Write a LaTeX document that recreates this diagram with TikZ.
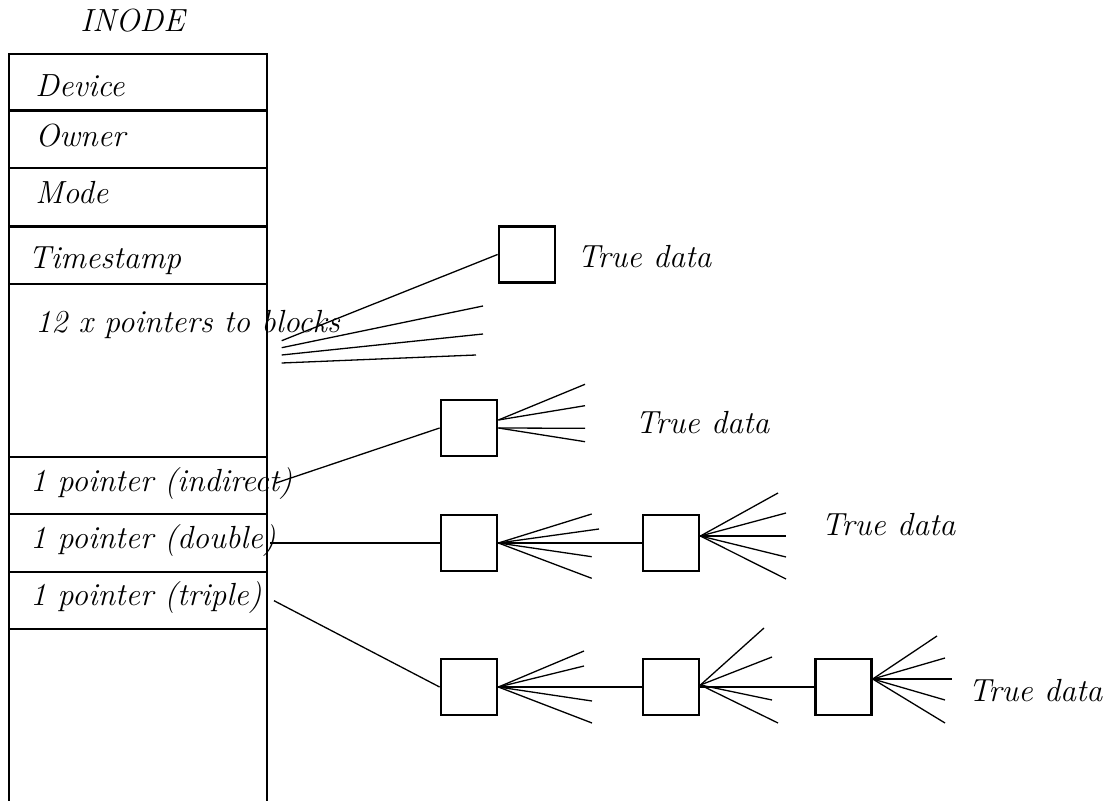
\documentclass[tikz,border=0pt]{standalone}
\usetikzlibrary{calc}
\begin{document}
\begin{tikzpicture}[x=0.5pt,y=-0.5pt,
  txt/.style={inner sep=0pt,anchor=base west,font=\fontsize{16}{19}\selectfont\itshape},
  frame/.style={line width=1.4pt},
  blk/.style={draw,line width=1.4pt,rectangle,minimum size=28pt,inner sep=0pt},
  thin/.style={line width=0.65pt},
  thick/.style={line width=1.4pt}]
\useasboundingbox (0,0) rectangle (1112,801);

% inode table: outer frame (open at the bottom) and field separators
\draw[frame] (9,801) -- (9,54) -- (267,54) -- (267,801);
\foreach \yy in {110.7,168,226.7,284,457,514,572,629}
  \draw[frame] (9,\yy) -- (267,\yy);

\node[txt,anchor=base] (title) at (132.5,32) {INODE};
\node[txt] (dev) at (35,96.7) {Device};
\node[txt] (own) at (35,147) {Owner};
\node[txt] (mode) at (35,204) {Mode};
\node[txt] (ts) at (28,268.3) {Timestamp};
\node[txt] (direct) at (35,333) {12 x pointers to blocks};
\node[txt] (ind) at (30,491.7) {1 pointer (indirect)};
\node[txt] (dbl) at (30,548) {1 pointer (double)};
\node[txt] (tpl) at (30,605.7) {1 pointer (triple)};

% disk blocks
\node[blk] (b1) at (527,254.5) {};
\node[blk] (b2) at (469,428) {};
\node[blk] (b3) at (469,543) {};
\node[blk] (b4) at (671,543) {};
\node[blk] (b5) at (469,687) {};
\node[blk] (b6) at (671,687) {};
\node[blk] (b7) at (843.3,687) {};

\node[txt] (t1) at (577,268) {True data};
\node[txt] (t2) at (635,434) {True data};
\node[txt] (t3) at (821,535) {True data};
\node[txt] (t4) at (968,701) {True data};

% direct pointers
\coordinate (d1) at (281.7,340.7);
\coordinate (d2) at (281.7,347.7);
\coordinate (d3) at (281.7,355);
\coordinate (d4) at (281.7,363);
\coordinate (e2) at (483,306);
\coordinate (e3) at (483,334);
\coordinate (e4) at (476,355);
\draw[thin] (d1) -- (b1.west);
\draw[thin] (d2) -- (e2);
\draw[thin] (d3) -- (e3);
\draw[thin] (d4) -- (e4);

% single indirect
\coordinate (si) at (276,483);
\draw[thin] (si) -- (b2.west);
\coordinate (o2) at ($(b2.east)+(0,-8)$);
\draw[thin] (o2) -- (585,384.3);
\draw[thin] (o2) -- (585,405.7);
\draw[thin] (b2.east) -- (585,428.3);
\draw[thin] (b2.east) -- (585,441.7);

% double indirect
\coordinate (di) at (270,543);
\draw[thick] (di) -- (b3.west);
\draw[thick] (b3.east) -- (b4.west);
\draw[thin] (b3.east) -- (591.7,514);
\draw[thin] (b3.east) -- (599,529);
\draw[thin] (b3.east) -- (591.7,556.7);
\draw[thin] (b3.east) -- (591.7,578.3);
\coordinate (o4) at ($(b4.east)+(0,-7)$);
\draw[thin] (o4) -- (778,493);
\draw[thin] (o4) -- (786,513);
\draw[thin] (o4) -- (786,536);
\draw[thin] (o4) -- (786,557);
\draw[thin] (o4) -- (786,579);

% triple indirect
\coordinate (ti) at (274,600.7);
\draw[thin] (ti) -- (b5.west);
\draw[thick] (b5.east) -- (b6.west);
\draw[thick] (b6.east) -- (b7.west);
\draw[thin] (b5.east) -- (584,651);
\draw[thin] (b5.east) -- (584,666);
\draw[thin] (b5.east) -- (592,701);
\draw[thin] (b5.east) -- (592,723);
\coordinate (o6) at ($(b6.east)+(0,-2)$);
\draw[thin] (o6) -- (764,628);
\draw[thin] (o6) -- (772,657);
\draw[thin] (o6) -- (772,700);
\draw[thin] (o6) -- (778,723);
\coordinate (o7) at ($(b7.east)+(0,-8)$);
\draw[thin] (o7) -- (937,636);
\draw[thin] (o7) -- (945,658);
\draw[thin] (o7) -- (952,679);
\draw[thin] (o7) -- (945,700);
\draw[thin] (o7) -- (945,723);
\end{tikzpicture}
\end{document}
